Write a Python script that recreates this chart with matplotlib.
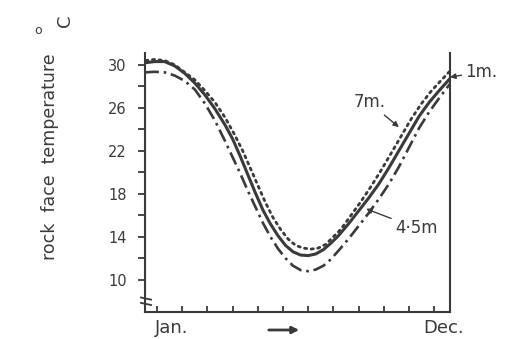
import matplotlib
matplotlib.use('Agg')
import matplotlib.pyplot as plt
from matplotlib.transforms import blended_transform_factory

# month positions (Jan = 1) and rock face temperature (deg C)
m_1m = [0.55, 0.9, 1.3, 1.7, 2.1, 2.5, 2.9, 3.3, 3.7, 4.0, 4.3, 4.6, 4.9, 5.2, 5.5, 5.8,
        6.1, 6.4, 6.7, 7.0, 7.3, 7.6, 7.9, 8.2, 8.6, 9.0, 9.4, 9.8, 10.2, 10.6, 11.0,
        11.4, 11.8, 12.2, 12.62]
t_1m = [30.2, 30.3, 30.3, 29.9, 29.2, 28.3, 27.2, 25.9, 24.4, 23.1, 21.5, 19.8, 18.1,
        16.5, 15.2, 14.1, 13.2, 12.6, 12.3, 12.25, 12.4, 12.8, 13.4, 14.1, 15.2, 16.4,
        17.6, 18.9, 20.4, 22.0, 23.6, 25.2, 26.5, 27.6, 28.7]

m_7m = [0.55, 0.9, 1.3, 1.7, 2.1, 2.5, 2.9, 3.3, 3.7, 4.1, 4.4, 4.7, 5.0, 5.3, 5.6, 5.9,
        6.2, 6.5, 6.8, 7.1, 7.4, 7.7, 8.0, 8.3, 8.7, 9.1, 9.5, 9.9, 10.3, 10.7, 11.1,
        11.5, 11.9, 12.3, 12.62]
t_7m = [30.4, 30.5, 30.4, 30.0, 29.3, 28.6, 27.6, 26.5, 25.1, 23.4, 22.0, 20.4, 18.8,
        17.2, 15.8, 14.7, 13.8, 13.2, 12.95, 12.85, 12.95, 13.3, 14.0, 14.7, 16.0, 17.3,
        18.7, 20.2, 21.8, 23.4, 25.0, 26.4, 27.6, 28.6, 29.4]

m_45m = [0.55, 0.9, 1.3, 1.7, 2.1, 2.5, 2.9, 3.3, 3.7, 4.0, 4.3, 4.6, 4.9, 5.2, 5.5, 5.8,
         6.1, 6.4, 6.7, 7.0, 7.3, 7.6, 7.9, 8.2, 8.6, 9.0, 9.4, 9.8, 10.2, 10.6, 11.0,
         11.4, 11.8, 12.2, 12.62]
t_45m = [29.3, 29.35, 29.3, 29.0, 28.5, 27.7, 26.4, 24.8, 22.9, 21.4, 19.9, 18.3, 16.8,
         15.3, 14.0, 12.9, 12.0, 11.3, 10.9, 10.8, 10.95, 11.3, 11.9, 12.7, 13.8, 15.0,
         16.2, 17.5, 18.9, 20.5, 22.3, 24.1, 25.6, 26.9, 28.2]

months = list(range(1, 13))
y_major = [10, 14, 18, 22, 26, 30]
y_minor = [12, 16, 20, 24, 28]

ink = '#3a3a3a'
plt.rcParams['font.family'] = ['DejaVu Sans']

fig = plt.figure(figsize=(5.08, 3.39), dpi=100)
ax = fig.add_axes([0.2854, 0.0796, 0.6004, 0.7641])

ax.plot(m_1m, t_1m, color=ink, lw=2.2, solid_capstyle='round')
ax.plot(m_7m, t_7m, color=ink, lw=2.0, linestyle=(0, (0.8, 1.6)), dash_capstyle='round')
ax.plot(m_45m, t_45m, color=ink, lw=1.9, linestyle=(0, (5, 1.8, 1, 1.8)))

ax.set_xlim(0.52, 12.63)
ax.set_ylim(7, 31.1)

ax.spines['top'].set_visible(False)
for s in ['left', 'right', 'bottom']:
    ax.spines[s].set_linewidth(1.5)
    ax.spines[s].set_color(ink)

ax.set_xticks(months)
ax.tick_params(axis='x', direction='in', length=4, width=1.3, color=ink, labelbottom=False)
ax.set_yticks(y_major)
ax.set_yticks(y_minor, minor=True)
ax.tick_params(axis='y', which='both', direction='out', length=5, width=1.3, color=ink,
               labelsize=10.5, labelcolor=ink, pad=8)

# axis break mark near the bottom of the y axis
tr = blended_transform_factory(ax.transAxes, ax.transData)
ax.plot([-0.013, 0.02], [8.35, 8.15], color=ink, lw=1.3, transform=tr, clip_on=False)
ax.plot([-0.013, 0.02], [7.85, 7.65], color=ink, lw=1.3, transform=tr, clip_on=False)

# curve labels
arrow = dict(arrowstyle='-|>', color=ink, lw=1.0, mutation_scale=8, shrinkA=1, shrinkB=0)
ax.annotate('1m.', xy=(12.63, 28.85), xytext=(13.25, 29.35), fontsize=12, color=ink,
            va='center', ha='left', arrowprops=arrow, annotation_clip=False)
ax.annotate('7m.', xy=(10.6, 24.2), xytext=(9.42, 26.5), fontsize=12, color=ink,
            va='center', ha='center', arrowprops=arrow)
ax.annotate('4·5m', xy=(9.3, 16.6), xytext=(11.3, 14.8), fontsize=12, color=ink,
            va='center', ha='center', arrowprops=arrow)

# month labels below the axis
fig.text(172 / 508, 1 - 328 / 339, 'Jan.', fontsize=13, color=ink, ha='center', va='center')
fig.text(444 / 508, 1 - 328 / 339, 'Dec.', fontsize=13, color=ink, ha='center', va='center')
ax.annotate('', xy=(302 / 508, 1 - 330 / 339), xytext=(266 / 508, 1 - 330 / 339),
            xycoords='figure fraction', textcoords='figure fraction', annotation_clip=False,
            arrowprops=dict(arrowstyle='-|>', color=ink, lw=2.0, mutation_scale=10))

# y label and unit
fig.text(50 / 508, 1 - 157 / 339, 'rock  face  temperature', rotation=90, fontsize=12.5,
         color=ink, ha='center', va='center')
fig.text(38 / 508, 1 - 31 / 339, 'o', fontsize=9, color=ink, ha='center', va='center')
fig.text(65 / 508, 1 - 21 / 339, 'C', rotation=90, fontsize=13, color=ink,
         ha='center', va='center')

fig.savefig('out.png', dpi=100)
